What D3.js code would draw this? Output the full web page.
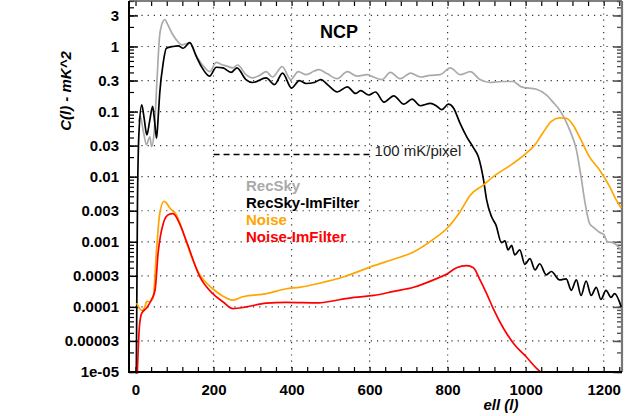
<!DOCTYPE html>
<html>
<head>
<meta charset="utf-8">
<script src="https://cdn.jsdelivr.net/npm/d3@7"></script>
<style>
  body { margin: 0; background: #fff; }
  svg { display: block; font-family: "Liberation Sans", Arial, sans-serif; }
</style>
</head>
<body>
<svg id="chart"></svg>
<script>
// power spectra, [ell, C(l)]
var recSky = [[8, 0.07], [12, 0.085], [20, 0.05], [28, 0.031], [34, 0.038], [37, 0.041], [41, 0.029],
  [48, 0.05], [55, 0.3], [62, 1.5], [70, 2.4], [75, 2.6], [82, 2.2], [96, 1.5], [108, 1.2], [118, 1.06],
  [130, 1.1], [139, 1.15], [152, 0.8], [165, 0.59], [178, 0.47], [190, 0.41], [207, 0.57], [220, 0.53],
  [232, 0.505], [249, 0.47], [262, 0.52], [283, 0.37], [300, 0.33], [318, 0.36], [335, 0.41], [351, 0.34],
  [376, 0.49], [398, 0.31], [417, 0.41], [438, 0.37], [458, 0.42], [470, 0.44], [492, 0.38], [517, 0.32],
  [543, 0.41], [568, 0.35], [594, 0.37], [610, 0.34], [632, 0.31], [653, 0.40], [679, 0.32], [705, 0.39],
  [730, 0.34], [755, 0.36], [781, 0.37], [807, 0.47], [832, 0.37], [858, 0.41], [883, 0.31], [909, 0.28],
  [940, 0.29], [968, 0.29], [989, 0.24], [1028, 0.22], [1053, 0.18], [1070, 0.14], [1087, 0.106],
  [1113, 0.052], [1130, 0.026], [1142, 0.01], [1151, 0.0044], [1164, 0.0019], [1178, 0.0016],
  [1189, 0.0014], [1200, 0.0013], [1210, 0.0010], [1222, 0.00098], [1232, 0.0009], [1245, 0.00075]];

var recSkyImFilter = [[1, 0.000001], [5, 0.004], [9, 0.05], [16, 0.127], [22, 0.08], [29, 0.044], [36, 0.07],
  [44, 0.12], [49, 0.07], [54, 0.039], [58, 0.08], [62, 0.19], [71, 0.56], [79, 0.94], [96, 1.0], [110, 1.02],
  [122, 0.94], [139, 1.15], [156, 0.70], [169, 0.49], [190, 0.35], [207, 0.48], [224, 0.47], [245, 0.40],
  [260, 0.47], [283, 0.31], [300, 0.28], [335, 0.33], [356, 0.26], [377, 0.39], [400, 0.23], [420, 0.30],
  [437, 0.27], [458, 0.28], [475, 0.31], [495, 0.25], [517, 0.20], [543, 0.24], [564, 0.19], [577, 0.21],
  [598, 0.18], [615, 0.20], [637, 0.14], [662, 0.175], [688, 0.13], [709, 0.155], [730, 0.123], [756, 0.134],
  [773, 0.12], [785, 0.107], [802, 0.13], [815, 0.114], [832, 0.066], [849, 0.041], [866, 0.028],
  [879, 0.020], [892, 0.009], [900, 0.0044], [913, 0.0024], [924, 0.0018], [938, 0.00097], [947, 0.00103],
  [955, 0.00075], [964, 0.00088], [972, 0.00063], [985, 0.00075], [998, 0.00045], [1011, 0.00055],
  [1024, 0.00037], [1036, 0.00046], [1053, 0.00031], [1066, 0.00035], [1087, 0.00026], [1104, 0.00027],
  [1117, 0.00018], [1130, 0.00026], [1142, 0.00015], [1155, 0.00025], [1168, 0.00015], [1181, 0.0002],
  [1193, 0.00013], [1206, 0.00018], [1219, 0.00014], [1228, 0.00016], [1245, 0.0001]];

var noise = [[3, 0.000114], [16, 0.000088], [24, 0.0001], [29, 0.000122], [37, 0.00012], [45, 0.000137],
  [54, 0.00076], [62, 0.0027], [73, 0.0042], [80, 0.0039], [88, 0.0033], [105, 0.0026], [122, 0.0014],
  [143, 0.0006], [165, 0.00031], [198, 0.00019], [225, 0.000145], [249, 0.000127], [275, 0.000143],
  [335, 0.00016], [386, 0.00019], [420, 0.0002], [470, 0.00023], [534, 0.00029], [560, 0.00033],
  [611, 0.00043], [662, 0.00054], [713, 0.0007], [764, 0.0011], [798, 0.0016], [832, 0.0029], [858, 0.0052],
  [892, 0.0075], [917, 0.010], [968, 0.016], [1002, 0.023], [1024, 0.031], [1044, 0.047], [1066, 0.071],
  [1087, 0.080], [1104, 0.079], [1121, 0.063], [1138, 0.041], [1164, 0.020], [1189, 0.0128], [1215, 0.0071],
  [1232, 0.0044], [1245, 0.0033]];

var noiseImFilter = [[3, 0.000005], [10, 0.00005], [16, 0.00008], [29, 0.000097], [41, 0.00013],
  [50, 0.00018], [58, 0.00068], [71, 0.0019], [84, 0.0026], [96, 0.0027], [113, 0.0019], [131, 0.001],
  [165, 0.00029], [198, 0.00016], [224, 0.00012], [250, 0.000094], [284, 0.0001], [335, 0.000114],
  [386, 0.000117], [470, 0.000115], [492, 0.00012], [560, 0.00014], [611, 0.00015], [662, 0.000173],
  [713, 0.0002], [764, 0.00026], [798, 0.00032], [823, 0.0004], [849, 0.00043], [866, 0.0004],
  [883, 0.00026], [900, 0.00016], [917, 0.000094], [943, 0.000047], [968, 0.000028], [1002, 0.000017],
  [1028, 0.0000114], [1040, 0.00001], [1245, 0.00001]];

// 100 mK/pixel reference level
var noiseLevel = [[200, 0.022], [600, 0.022]];

var seriesNames = ["RecSky", "RecSky-ImFilter", "Noise", "Noise-ImFilter"];
var seriesColors = ["#aaaaaa", "#000000", "#ffa500", "#ff0000"];

var xTicks = [0, 200, 400, 600, 800, 1000, 1200];
var yTicks = [1e-5, 3e-5, 1e-4, 3e-4, 1e-3, 3e-3, 0.01, 0.03, 0.1, 0.3, 1, 3];
var yTickLabels = ["1e-05", "0.00003", "0.0001", "0.0003", "0.001", "0.003", "0.01", "0.03", "0.1", "0.3", "1", "3"];

var width = 635, height = 416;
var margin = {top: 1, right: 13, bottom: 44, left: 129};

var x = d3.scaleLinear()
  .domain([-16.7, 1247])
  .range([margin.left, width - margin.right]);

var y = d3.scaleLog()
  .domain([1e-5, 5])
  .range([height - margin.bottom, margin.top]);

var svg = d3.select("#chart")
  .attr("width", width)
  .attr("height", height);

// minor ticks
var xMinor = d3.range(-0, 1247, 40);
var yMinor = [];
for (var e = -5; e <= 0; e++) {
  for (var k = 1; k <= 9; k++) {
    var v = k * Math.pow(10, e);
    if (v <= 5) yMinor.push(v);
  }
}

// grid
svg.append("g")
  .selectAll("line")
  .data(xTicks.filter(d => d > 0))
  .join("line")
    .attr("x1", d => x(d)).attr("x2", d => x(d))
    .attr("y1", margin.top).attr("y2", height - margin.bottom)
    .attr("stroke", "#333")
    .attr("stroke-width", 1.2)
    .attr("stroke-dasharray", "1.2,5");

svg.append("g")
  .selectAll("line")
  .data(yTicks.filter(d => d > 1e-5))
  .join("line")
    .attr("x1", margin.left).attr("x2", width - margin.right)
    .attr("y1", d => y(d)).attr("y2", d => y(d))
    .attr("stroke", "#333")
    .attr("stroke-width", 1.2)
    .attr("stroke-dasharray", "1.2,5");

// ticks on all four sides, pointing inward
svg.append("g")
  .attr("transform", `translate(0,${height - margin.bottom})`)
  .call(d3.axisTop(x).tickValues(xMinor).tickSize(5).tickFormat(""))
  .call(g => g.select(".domain").remove())
  .call(g => g.selectAll("line").attr("stroke", "#000").attr("stroke-width", 1.2));

svg.append("g")
  .attr("transform", `translate(0,${margin.top})`)
  .call(d3.axisBottom(x).tickValues(xMinor).tickSize(5).tickFormat(""))
  .call(g => g.select(".domain").remove())
  .call(g => g.selectAll("line").attr("stroke", "#000").attr("stroke-width", 1.2));

svg.append("g")
  .attr("transform", `translate(${margin.left},0)`)
  .call(d3.axisRight(y).tickValues(yMinor).tickSize(5).tickFormat(""))
  .call(g => g.select(".domain").remove())
  .call(g => g.selectAll("line").attr("stroke", "#000").attr("stroke-width", 1.2));

svg.append("g")
  .attr("transform", `translate(${margin.left},0)`)
  .call(d3.axisRight(y).tickValues(yTicks).tickSize(9).tickFormat(""))
  .call(g => g.select(".domain").remove())
  .call(g => g.selectAll("line").attr("stroke", "#000").attr("stroke-width", 1.4));

svg.append("g")
  .attr("transform", `translate(${width - margin.right},0)`)
  .call(d3.axisLeft(y).tickValues(yMinor).tickSize(5).tickFormat(""))
  .call(g => g.select(".domain").remove())
  .call(g => g.selectAll("line").attr("stroke", "#555").attr("stroke-width", 1.4));

svg.append("g")
  .attr("transform", `translate(${width - margin.right},0)`)
  .call(d3.axisLeft(y).tickValues(yTicks).tickSize(9).tickFormat(""))
  .call(g => g.select(".domain").remove())
  .call(g => g.selectAll("line").attr("stroke", "#555").attr("stroke-width", 1.6));

// tick labels
svg.append("g")
  .attr("transform", `translate(0,${height - margin.bottom})`)
  .call(d3.axisBottom(x).tickValues(xTicks).tickSize(0).tickPadding(12).tickFormat(d3.format("d")))
  .call(g => g.select(".domain").remove())
  .call(g => g.selectAll("text")
    .attr("fill", "#000")
    .style("font-size", "15px")
    .style("font-weight", "bold")
    .style("font-family", "Liberation Sans, Arial, sans-serif"));

svg.append("g")
  .attr("transform", `translate(${margin.left},0)`)
  .call(d3.axisLeft(y).tickValues(yTicks).tickSize(0).tickPadding(10).tickFormat((d, i) => yTickLabels[i]))
  .call(g => g.select(".domain").remove())
  .call(g => g.selectAll("text")
    .attr("fill", "#000")
    .style("font-size", "15px")
    .style("font-weight", "bold")
    .style("font-family", "Liberation Sans, Arial, sans-serif"));

// frame
svg.append("line")
  .attr("x1", margin.left).attr("x2", width - margin.right)
  .attr("y1", margin.top).attr("y2", margin.top)
  .attr("stroke", "#555").attr("stroke-width", 1.5);
svg.append("line")
  .attr("x1", width - margin.right).attr("x2", width - margin.right)
  .attr("y1", margin.top).attr("y2", height - margin.bottom)
  .attr("stroke", "#777").attr("stroke-width", 2.2);

// curves
svg.append("clipPath")
  .attr("id", "plotclip")
  .append("rect")
    .attr("x", margin.left)
    .attr("y", margin.top)
    .attr("width", width - margin.right - margin.left)
    .attr("height", height - margin.bottom - margin.top + 1.5);

var line = d3.line()
  .x(d => x(d[0]))
  .y(d => y(d[1]))
  .curve(d3.curveMonotoneX);

var plot = svg.append("g").attr("clip-path", "url(#plotclip)");

[recSky, recSkyImFilter, noise, noiseImFilter].forEach(function(s, i) {
  plot.append("path")
    .datum(s)
    .attr("fill", "none")
    .attr("stroke", seriesColors[i])
    .attr("stroke-width", 1.7)
    .attr("stroke-linejoin", "round")
    .attr("d", line);
});

plot.append("path")
  .datum(noiseLevel)
  .attr("fill", "none")
  .attr("stroke", "#000")
  .attr("stroke-width", 1.5)
  .attr("stroke-dasharray", "6,4")
  .attr("d", d3.line().x(d => x(d[0])).y(d => y(d[1])));

svg.append("line")
  .attr("x1", margin.left).attr("x2", margin.left)
  .attr("y1", margin.top).attr("y2", height - margin.bottom + 1)
  .attr("stroke", "#000").attr("stroke-width", 2);
svg.append("line")
  .attr("x1", margin.left).attr("x2", width - margin.right)
  .attr("y1", height - margin.bottom).attr("y2", height - margin.bottom)
  .attr("stroke", "#000").attr("stroke-width", 1.8);

// annotations
svg.append("text")
  .attr("x", x(noiseLevel[1][0]) + 5)
  .attr("y", y(noiseLevel[1][1]) + 2)
  .style("font-size", "15px")
  .attr("fill", "#222")
  .text("100 mK/pixel");

svg.append("text")
  .attr("x", 320)
  .attr("y", 38)
  .style("font-size", "18px")
  .style("font-weight", "bold")
  .text("NCP");

svg.append("g")
  .selectAll("text")
  .data(seriesNames)
  .join("text")
    .attr("x", 246)
    .attr("y", (d, i) => 191 + i * 17)
    .attr("fill", (d, i) => seriesColors[i])
    .style("font-size", "15px")
    .style("font-weight", "bold")
    .text(d => d);

svg.append("text")
  .attr("x", 501)
  .attr("y", 410)
  .style("font-size", "15px")
  .style("font-weight", "bold")
  .style("font-style", "italic")
  .style("text-anchor", "middle")
  .text("ell (l)");

svg.append("text")
  .attr("transform", "translate(71,91) rotate(-90)")
  .style("font-size", "15px")
  .style("font-weight", "bold")
  .style("font-style", "italic")
  .style("text-anchor", "middle")
  .text("C(l) - mK^2");
</script>
</body>
</html>
